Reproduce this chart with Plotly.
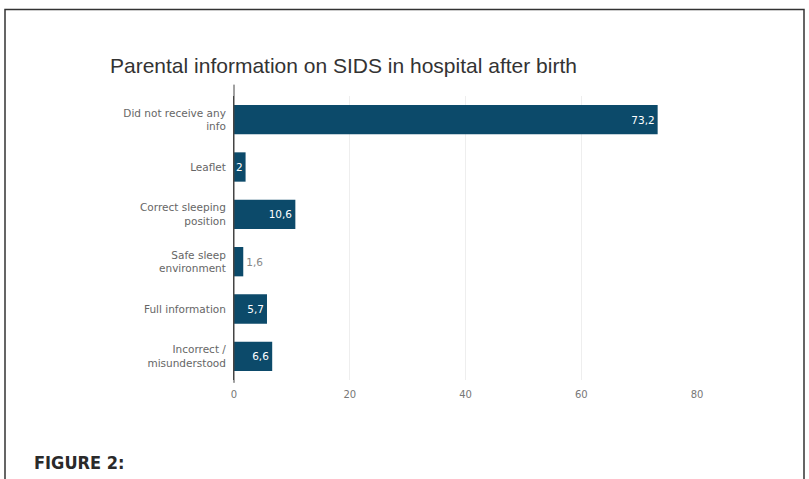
import plotly.graph_objects as go

categories = ["Did not receive any<br>info", "Leaflet", "Correct sleeping<br>position",
              "Safe sleep<br>environment", "Full information", "Incorrect /<br>misunderstood"]
values = [73.2, 2, 10.6, 1.6, 5.7, 6.6]
x_ticks = [0, 20, 40, 60, 80]

labels = [("%g" % v).replace(".", ",") for v in values]
positions = ["outside" if v < 1.8 else "inside" for v in values]
text_colors = ["#888888" if p == "outside" else "white" for p in positions]

fig = go.Figure(go.Bar(
    x=values, y=categories, orientation="h",
    marker=dict(color="#0c4a6a", line=dict(width=0)),
    text=labels, textposition=positions, insidetextanchor="end",
    textfont=dict(size=10.5, color=text_colors, family="DejaVu Sans"),
    constraintext="none", cliponaxis=False,
))

W, H = 809, 479
L, R, T, B = 234, 112, 96, 99
pw = W - L - R
ph = H - T - B

def px_x(p):
    return (p - L) / pw

def px_y(p):
    return 1 - (p - T) / ph

fig.update_layout(
    width=W, height=H,
    margin=dict(l=L, r=R, t=T, b=B),
    paper_bgcolor="white", plot_bgcolor="white",
    showlegend=False,
    bargap=0.38,
    font=dict(family="DejaVu Sans", color="#555555"),
    title=dict(text="Parental information on SIDS in hospital after birth",
               x=110 / W, xanchor="left", xref="container",
               y=1 - 66 / H, yanchor="middle", yref="container",
               font=dict(size=21, color="#333333", family="Liberation Sans")),
    xaxis=dict(range=[0, 80], tickvals=x_ticks, showgrid=True, gridcolor="#eeeeee",
               gridwidth=1, zeroline=False, showline=False,
               tickfont=dict(size=10, color="#777777"), ticklabelstandoff=7),
    yaxis=dict(autorange="reversed", showline=True, linecolor="#444444", linewidth=1,
               showgrid=False, tickfont=dict(size=10.5, color="#666666"),
               ticklabelstandoff=5, ticks=""),
    shapes=[
        dict(type="line", xref="paper", yref="paper", x0=0, x1=0, y0=1.04, y1=-0.01,
             line=dict(color="#444444", width=1)),
        dict(type="path", xref="paper", yref="paper",
             path="M %f %f L %f %f L %f %f L %f %f" % (
                 px_x(5), px_y(490), px_x(5), px_y(9.5), px_x(804), px_y(9.5), px_x(804), px_y(490)),
             line=dict(color="#333333", width=1.5)),
    ],
    annotations=[
        dict(text="<b>FIGURE 2:</b>", xref="paper", yref="paper",
             x=px_x(32), y=px_y(462), xanchor="left", yanchor="middle", showarrow=False,
             font=dict(size=18, color="#2a2a2a", family="DejaVu Sans Condensed")),
    ],
)

fig.write_html("out.html", config={"displayModeBar": False},
               post_script="document.body.style.margin='0px';document.body.style.overflow='hidden';")
